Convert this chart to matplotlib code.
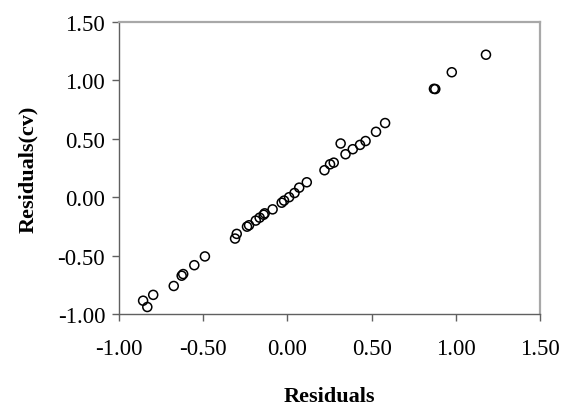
import matplotlib
matplotlib.use("Agg")
import matplotlib.pyplot as plt

# residuals vs cross-validated residuals
residuals = [-0.857, -0.832, -0.797, -0.675, -0.628, -0.619, -0.553, -0.490,
             -0.311, -0.301, -0.240, -0.228, -0.188, -0.165, -0.141, -0.135,
             -0.088, -0.034, -0.020, 0.010, 0.042, 0.070, 0.115, 0.220,
             0.253, 0.275, 0.316, 0.345, 0.388, 0.431, 0.464, 0.526,
             0.580, 0.870, 0.878, 0.976, 1.179]
residuals_cv = [-0.886, -0.940, -0.836, -0.760, -0.672, -0.658, -0.582, -0.507,
                -0.354, -0.314, -0.252, -0.240, -0.200, -0.175, -0.150, -0.138,
                -0.104, -0.047, -0.029, 0.000, 0.036, 0.082, 0.128, 0.231,
                0.282, 0.296, 0.460, 0.368, 0.411, 0.448, 0.481, 0.560,
                0.635, 0.928, 0.926, 1.070, 1.220]
ticks = [-1.0, -0.5, 0.0, 0.5, 1.0, 1.5]

plt.rcParams["font.family"] = ["Liberation Serif", "DejaVu Serif"]

fig = plt.figure(figsize=(5.63, 4.06), dpi=100)
ax = fig.add_axes([0.2114, 0.2241, 0.7478, 0.7192])

ax.scatter(residuals, residuals_cv, s=42, facecolors="none",
           edgecolors="black", linewidths=1.1, zorder=3)

ax.set_xlim(-1.0, 1.5)
ax.set_ylim(-1.0, 1.5)
ax.set_xticks(ticks)
ax.set_yticks(ticks)
ax.set_xticklabels([f"{t:.2f}" for t in ticks])
ax.set_yticklabels([f"{t:.2f}" for t in ticks])
ax.tick_params(axis="both", direction="out", length=5, width=1,
               color="#606060", labelsize=16.5)
ax.tick_params(axis="x", pad=12)
ax.tick_params(axis="y", pad=5)

for side in ["left", "bottom"]:
    ax.spines[side].set_color("#606060")
    ax.spines[side].set_linewidth(1.0)
for side in ["top", "right"]:
    ax.spines[side].set_color("#a8a8a8")
    ax.spines[side].set_linewidth(1.6)

ax.set_xlabel("Residuals", fontsize=16, fontweight="bold", labelpad=20)
ax.set_ylabel("Residuals(cv)", fontsize=16, fontweight="bold", labelpad=14)

fig.savefig("out.png", dpi=100)
